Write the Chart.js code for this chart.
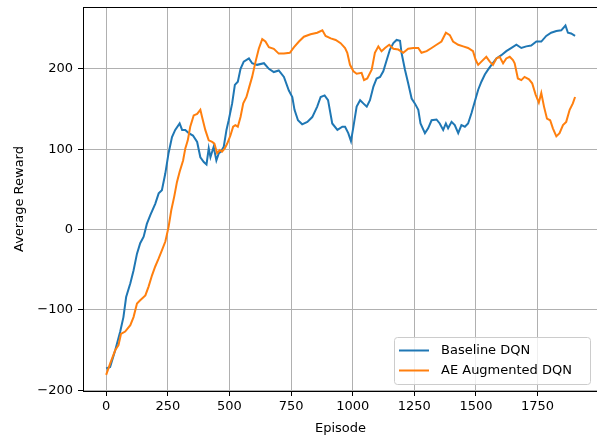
<!DOCTYPE html>
<html>
<head>
<meta charset="utf-8">
<script src="https://cdn.jsdelivr.net/npm/chart.js@4"></script>
<style>
  html, body { margin: 0; padding: 0; background: #fff; overflow: hidden; }
  #wrap { width: 599px; height: 438px; }
</style>
</head>
<body>
<div id="wrap"><canvas id="graphique"></canvas></div>
<script>
// Valeurs
const baselineEpisodes = [0, 16, 37, 57, 70, 81, 98, 111, 125, 138, 152, 165, 179, 199, 213, 226, 240, 253, 267, 280, 298, 308, 321, 335, 352, 369, 382, 396, 407, 416, 423, 436, 447, 457, 466, 477, 488, 497, 511, 522, 534, 545, 558, 579, 592, 612, 640, 660, 680, 700, 721, 741, 755, 764, 778, 795, 816, 836, 856, 870, 886, 900, 917, 938, 958, 969, 982, 993, 1003, 1016, 1030, 1043, 1057, 1070, 1084, 1097, 1111, 1124, 1138, 1151, 1165, 1178, 1192, 1198, 1212, 1225, 1239, 1252, 1266, 1275, 1293, 1306, 1320, 1340, 1353, 1367, 1378, 1387, 1401, 1414, 1428, 1441, 1455, 1468, 1482, 1495, 1509, 1522, 1536, 1549, 1563, 1583, 1603, 1623, 1644, 1664, 1684, 1704, 1724, 1745, 1765, 1785, 1805, 1826, 1846, 1863, 1873, 1886, 1902];
const baselineReward = [-173, -171, -150, -127, -109, -84, -67, -51, -30, -17, -9, 7, 18, 32, 45, 49, 70, 95, 115, 124, 132, 124, 124, 120, 117, 109, 90, 84, 81, 101, 90, 103, 86, 95, 97, 103, 124, 136, 157, 180, 184, 200, 209, 213, 207, 205, 207, 200, 196, 198, 190, 173, 165, 149, 136, 131, 134, 140, 153, 165, 167, 161, 132, 124, 128, 128, 120, 110, 128, 153, 161, 157, 153, 161, 178, 188, 190, 197, 211, 224, 232, 236, 235, 220, 199, 182, 163, 157, 149, 132, 120, 126, 136, 137, 132, 124, 132, 126, 134, 130, 120, 130, 128, 132, 145, 159, 174, 184, 193, 199, 205, 213, 217, 222, 226, 230, 226, 228, 229, 234, 234, 241, 245, 247, 248, 254, 245, 244, 241];

const aeEpisodes = [0, 16, 37, 50, 60, 77, 98, 111, 125, 138, 159, 172, 186, 199, 213, 226, 240, 253, 264, 276, 287, 298, 312, 321, 331, 341, 355, 369, 382, 389, 402, 416, 430, 439, 450, 461, 470, 481, 491, 504, 515, 524, 534, 545, 556, 569, 579, 592, 606, 619, 633, 646, 660, 680, 700, 721, 745, 762, 782, 802, 829, 856, 877, 890, 911, 931, 951, 969, 978, 989, 1003, 1016, 1036, 1046, 1059, 1077, 1090, 1104, 1117, 1131, 1148, 1165, 1185, 1205, 1225, 1246, 1266, 1279, 1300, 1320, 1340, 1360, 1378, 1394, 1407, 1428, 1448, 1468, 1488, 1499, 1509, 1522, 1542, 1556, 1569, 1583, 1596, 1610, 1623, 1637, 1650, 1657, 1670, 1684, 1697, 1715, 1728, 1742, 1755, 1765, 1776, 1788, 1801, 1812, 1826, 1839, 1853, 1866, 1880, 1893, 1902];
const aeReward = [-181, -167, -150, -144, -130, -127, -119, -109, -92, -88, -82, -71, -57, -46, -36, -26, -15, 3, 24, 41, 59, 72, 86, 101, 111, 128, 142, 144, 149, 140, 124, 111, 109, 107, 95, 99, 97, 101, 107, 117, 128, 130, 128, 140, 157, 165, 176, 190, 209, 225, 237, 234, 227, 225, 219, 219, 220, 227, 234, 240, 243, 245, 248, 241, 238, 236, 232, 226, 220, 205, 197, 194, 195, 186, 188, 199, 220, 228, 222, 226, 230, 225, 224, 220, 225, 226, 226, 220, 222, 226, 230, 234, 245, 242, 234, 230, 228, 226, 222, 211, 205, 209, 215, 209, 205, 213, 215, 207, 213, 215, 211, 207, 188, 186, 190, 187, 182, 168, 158, 170, 153, 138, 136, 126, 116, 120, 130, 134, 149, 157, 165];

const seriesLabels = ["Baseline DQN", "AE Augmented DQN"];
const seriesColors = ["#1f77b4", "#ff7f0e"];
const xTicks = [0, 250, 500, 750, 1000, 1250, 1500, 1750];
const yTicks = [-200, -100, 0, 100, 200];

const police = "'DejaVu Sans', sans-serif";

function toPoints(xs, ys) {
    return xs.map((x, i) => ({ x: x, y: ys[i] }));
}

// Légende + bord haut dessinés à la main (style matplotlib)
const legendeMpl = {
    id: "legendeMpl",
    afterDraw(chart) {
        const c = chart.ctx;
        const area = chart.chartArea;
        c.save();
        // bord haut
        c.strokeStyle = "#000";
        c.lineWidth = 1;
        c.beginPath();
        c.moveTo(area.left, area.top + 0.5);
        c.lineTo(area.right, area.top + 0.5);
        c.stroke();

        // cadre de la légende
        const bx = 394.5, by = 337.5, bw = 196, bh = 47, r = 3;
        c.fillStyle = "rgba(255,255,255,0.8)";
        c.strokeStyle = "#cccccc";
        c.beginPath();
        c.moveTo(bx + r, by);
        c.arcTo(bx + bw, by, bx + bw, by + bh, r);
        c.arcTo(bx + bw, by + bh, bx, by + bh, r);
        c.arcTo(bx, by + bh, bx, by, r);
        c.arcTo(bx, by, bx + bw, by, r);
        c.closePath();
        c.fill();
        c.stroke();

        c.font = "13px " + police;
        c.textBaseline = "middle";
        c.textAlign = "left";
        chart.data.datasets.forEach((ds, i) => {
            const y = 350.5 + i * 20;
            c.strokeStyle = ds.borderColor;
            c.lineWidth = 2;
            c.beginPath();
            c.moveTo(399, y);
            c.lineTo(429, y);
            c.stroke();
            c.fillStyle = "#000";
            c.fillText(ds.label, 441, y + 0.5);
        });
        c.restore();
    }
};

const moinsUnicode = v => String(v).replace("-", "\u2212");

new Chart(document.getElementById("graphique"), {
    type: "line",
    data: {
        datasets: [
            {
                label: seriesLabels[0],
                data: toPoints(baselineEpisodes, baselineReward),
                borderColor: seriesColors[0],
                backgroundColor: seriesColors[0],
                borderWidth: 2,
                pointRadius: 0,
                tension: 0,
                order: 1
            },
            {
                label: seriesLabels[1],
                data: toPoints(aeEpisodes, aeReward),
                borderColor: seriesColors[1],
                backgroundColor: seriesColors[1],
                borderWidth: 2,
                pointRadius: 0,
                tension: 0,
                order: 0
            }
        ]
    },
    options: {
        responsive: true,
        maintainAspectRatio: false,
        animation: false,
        layout: { padding: { top: 7, right: 1, left: 0, bottom: 0 } },
        plugins: {
            legend: { display: false },
            tooltip: { enabled: false }
        },
        scales: {
            x: {
                type: "linear",
                min: -94,
                max: 1995,
                afterFit: s => { s.height = 47; s.paddingLeft = 0; s.paddingRight = 0; },
                afterBuildTicks: s => { s.ticks = xTicks.map(v => ({ value: v })); },
                grid: { color: "#b0b0b0", lineWidth: 1, tickColor: "#000", tickLength: 5 },
                border: { color: "#000", width: 1 },
                ticks: {
                    color: "#000",
                    padding: 3,
                    maxRotation: 0,
                    font: { family: police, size: 13 },
                    callback: v => moinsUnicode(v)
                },
                title: {
                    display: true,
                    text: "Episode",
                    color: "#000",
                    padding: { top: 0, bottom: 2 },
                    font: { family: police, size: 13 }
                }
            },
            y: {
                type: "linear",
                min: -201,
                max: 277,
                afterFit: s => { s.width = 83; s.paddingTop = 0; s.paddingBottom = 0; },
                afterBuildTicks: s => { s.ticks = yTicks.map(v => ({ value: v })); },
                grid: { color: "#b0b0b0", lineWidth: 1, tickColor: "#000", tickLength: 5 },
                border: { color: "#000", width: 1 },
                ticks: {
                    color: "#000",
                    padding: 5,
                    font: { family: police, size: 13 },
                    callback: v => moinsUnicode(v)
                },
                title: {
                    display: true,
                    text: "Average Reward",
                    color: "#000",
                    padding: { top: 12, bottom: 0 },
                    font: { family: police, size: 13 }
                }
            }
        }
    },
    plugins: [legendeMpl]
});
</script>
</body>
</html>
